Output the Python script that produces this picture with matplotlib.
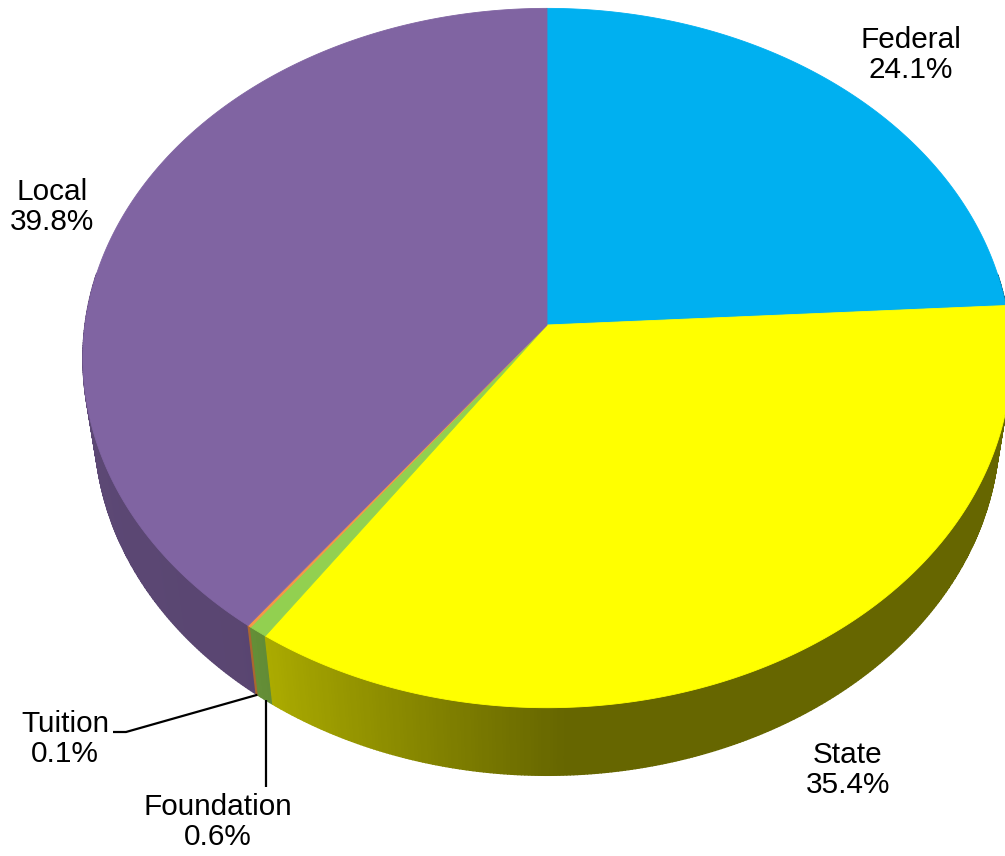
import numpy as np
import matplotlib.pyplot as plt
from matplotlib.patches import Polygon
from matplotlib.colors import to_rgb

# revenue sources, clockwise from 12 o'clock
labels = ['Federal', 'State', 'Foundation', 'Tuition', 'Local']
shares = [24.1, 35.4, 0.6, 0.1, 39.8]
colors = ['#00B0F0', '#FFFF00', '#92D050', '#F79646', '#8064A2']

# simple perspective camera for the tilted pie
CX, CY = 547, 325          # projected pie centre (px)
F = 3234                   # focal length (px)
D = 7.0                    # camera distance (pie radius = 1)
PHI = np.radians(48.6)     # tilt of the view
H = 0.238                  # pie thickness
S, C = np.sin(PHI), np.cos(PHI)


def project(theta, y):
    # theta in radians, clockwise from the far side of the pie
    x3 = np.sin(theta)
    z3 = np.cos(theta)
    v = z3 * S + y * C
    w = D + z3 * C - y * S
    return CX + F * x3 / w, CY - F * v / w, w


def wall_shade(deg):
    # darker on the front right, lighter towards the left edge
    k = 0.40 + 0.30 * np.clip((deg - 178) / 40, 0, 1)
    k += 0.04 * np.clip((deg - 220) / 70, 0, 1)
    return k


fig = plt.figure(figsize=(10.05, 8.56), dpi=100)
ax = fig.add_axes([0, 0, 1, 1])
ax.set_xlim(0, 1005)
ax.set_ylim(856, 0)
ax.axis('off')

bounds = np.concatenate([[0], np.cumsum(shares)]) / sum(shares) * 360

# outer walls, drawn as thin strips far-to-near
strips = []
for i, col in enumerate(colors):
    a0, a1 = bounds[i], bounds[i + 1]
    n = max(2, int((a1 - a0) / 0.4))
    edges = np.linspace(a0, a1, n + 1)
    base = np.array(to_rgb(col))
    for e0, e1 in zip(edges[:-1], edges[1:]):
        mid = 0.5 * (e0 + e1)
        if np.cos(np.radians(mid)) > 0.15:
            continue
        t = np.radians([e0, e1])
        xt, yt, wt = project(t, 0.0)
        xb, yb, wb = project(t, -H)
        pts = [(xt[0], yt[0]), (xt[1], yt[1]), (xb[1], yb[1]), (xb[0], yb[0])]
        shade = np.clip(base * wall_shade(mid), 0, 1)
        strips.append((wt.mean(), pts, shade))

for _, pts, shade in sorted(strips, key=lambda s: -s[0]):
    ax.add_patch(Polygon(pts, closed=True, facecolor=shade, edgecolor=shade,
                         linewidth=1.0))

# top faces
for i, col in enumerate(colors):
    a0, a1 = bounds[i], bounds[i + 1]
    t = np.radians(np.linspace(a0, a1, max(3, int((a1 - a0) * 2))))
    xs, ys, _ = project(t, 0.0)
    pts = [(CX, CY)] + list(zip(xs, ys))
    ax.add_patch(Polygon(pts, closed=True, facecolor=col, edgecolor=col,
                         linewidth=0.6))

# data labels
txt = dict(fontsize=21.4, family=['Liberation Sans', 'DejaVu Sans'],
           ha='center', va='center', linespacing=1.13)
label_xy = {'Federal': (911, 55), 'State': (848, 770), 'Foundation': (218, 822),
            'Tuition': (65, 739), 'Local': (52, 207)}
for name, share in zip(labels, shares):
    ax.text(*label_xy[name], f'{name}\n{share:.1f}%', **txt)

# leader lines for the two thin slices
mid_t = np.radians(0.5 * (bounds[3] + bounds[4]))
tx, ty, _ = project(mid_t, -H)
ax.plot([113, 126, tx], [732, 732, ty], color='black', lw=1.6,
        solid_capstyle='butt')
mid_f = np.radians(0.5 * (bounds[2] + bounds[3]))
fx, fy, _ = project(mid_f, -H)
ax.plot([fx, fx], [fy, 787], color='black', lw=1.6, solid_capstyle='butt')

fig.savefig('out.png', dpi=100, facecolor='white')
